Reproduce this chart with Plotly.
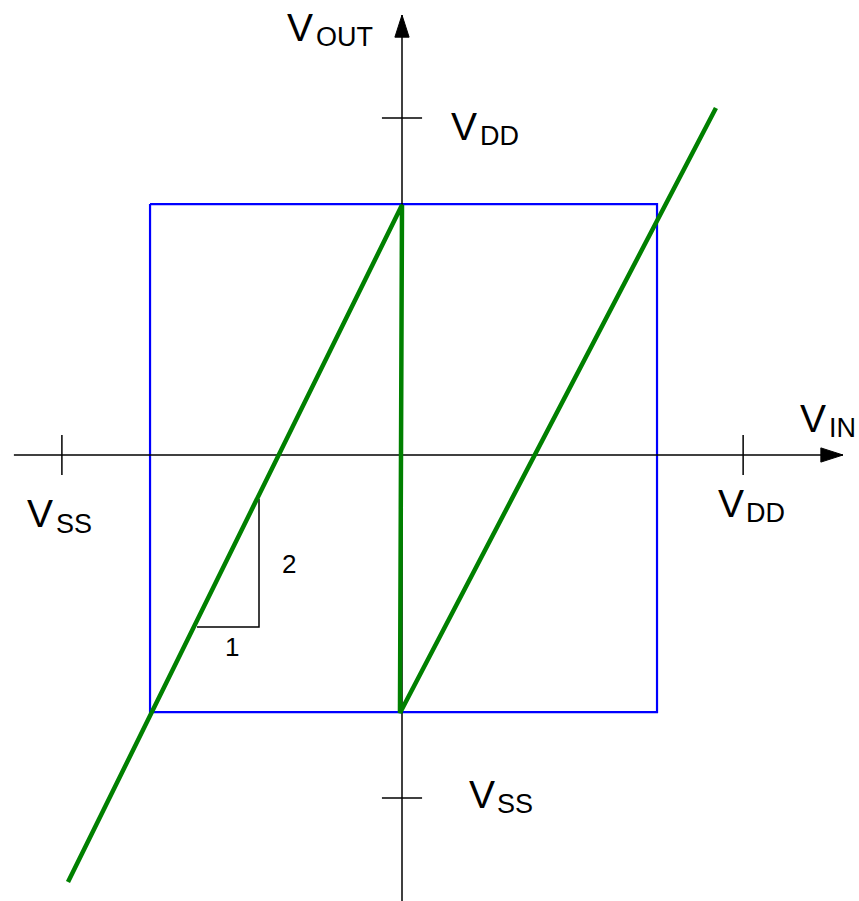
import plotly.graph_objects as go

# ---- data (units: half-width of the blue window = ~1) ----
curve_vin = [-1.315, 0.000, -0.008, 1.236]
curve_vout = [-1.681, 0.984, -1.016, 1.366]

window_x = [-0.992, 1.004, 1.004, -0.992, -0.992]
window_y = [0.988, 0.988, -1.012, -1.012, 0.988]

vin_tick_vals = [-1.339, 1.343]
vin_tick_text = [("V", "SS"), ("V", "DD")]
vout_tick_vals = [1.327, -1.350]
vout_tick_text = [("V", "DD"), ("V", "SS")]

slope_x = [-0.807, -0.563, -0.563]
slope_y = [-0.677, -0.677, -0.173]
slope_labels = ["1", "2"]

axis_x_extent = [-1.528, 1.736]
axis_y_extent = [-1.80, 1.732]

FONT = "Liberation Sans, Arial, sans-serif"
TICK_HALF = 0.079

fig = go.Figure()

# window (blue square)
fig.add_trace(go.Scatter(x=window_x, y=window_y, mode="lines",
                         line=dict(color="#0000FF", width=2.2), hoverinfo="skip"))

# axes lines
fig.add_trace(go.Scatter(x=axis_x_extent, y=[0, 0], mode="lines",
                         line=dict(color="black", width=1.5), hoverinfo="skip"))
fig.add_trace(go.Scatter(x=[0, 0], y=axis_y_extent, mode="lines",
                         line=dict(color="black", width=1.5), hoverinfo="skip"))

# arrowheads
ah_len, ah_w = 0.087, 0.028
xt = axis_x_extent[1]
fig.add_trace(go.Scatter(x=[xt, xt - ah_len, xt - ah_len, xt], y=[0, ah_w, -ah_w, 0],
                         mode="lines", fill="toself", fillcolor="black",
                         line=dict(color="black", width=1), hoverinfo="skip"))
yt = axis_y_extent[1]
fig.add_trace(go.Scatter(x=[0, ah_w, -ah_w, 0], y=[yt, yt - ah_len, yt - ah_len, yt],
                         mode="lines", fill="toself", fillcolor="black",
                         line=dict(color="black", width=1), hoverinfo="skip"))

# tick marks
for v in vin_tick_vals:
    fig.add_trace(go.Scatter(x=[v, v], y=[-TICK_HALF, TICK_HALF], mode="lines",
                             line=dict(color="black", width=1.5), hoverinfo="skip"))
for v in vout_tick_vals:
    fig.add_trace(go.Scatter(x=[-TICK_HALF, TICK_HALF], y=[v, v], mode="lines",
                             line=dict(color="black", width=1.5), hoverinfo="skip"))

# slope triangle
fig.add_trace(go.Scatter(x=slope_x, y=slope_y, mode="lines",
                         line=dict(color="black", width=1.5), hoverinfo="skip"))

# transfer curve
fig.add_trace(go.Scatter(x=curve_vin, y=curve_vout, mode="lines",
                         line=dict(color="#008000", width=4.5), hoverinfo="skip"))

annotations = []


def sub_label(xv, yv, main, sub, main_size=39, sub_size=27):
    # main glyph centred at (xv, yv); subscript placed right & lower
    annotations.append(dict(x=xv, y=yv, xref="x", yref="y", text=main, showarrow=False,
                            xanchor="center", yanchor="middle",
                            font=dict(family=FONT, size=main_size, color="black")))
    annotations.append(dict(x=xv + 0.053, y=yv - 0.038, xref="x", yref="y", text=sub,
                            showarrow=False, xanchor="left", yanchor="middle",
                            font=dict(family=FONT, size=sub_size, color="black")))


# axis titles
sub_label(-0.400, 1.683, "V", "OUT")
sub_label(1.620, 0.144, "V", "IN")

# x-axis tick labels (below axis)
sub_label(vin_tick_vals[0] - 0.086, -0.232, *vin_tick_text[0])
sub_label(vin_tick_vals[1] - 0.048, -0.191, *vin_tick_text[1])
# y-axis tick labels (right of axis)
sub_label(0.246, vout_tick_vals[0] - 0.032, *vout_tick_text[0])
sub_label(0.313, vout_tick_vals[1] + 0.015, *vout_tick_text[1])

# slope labels
annotations.append(dict(x=-0.669, y=-0.756, xref="x", yref="y", text=slope_labels[0],
                        showarrow=False, xanchor="center", yanchor="middle",
                        font=dict(family=FONT, size=26, color="black")))
annotations.append(dict(x=-0.445, y=-0.429, xref="x", yref="y", text=slope_labels[1],
                        showarrow=False, xanchor="center", yanchor="middle",
                        font=dict(family=FONT, size=26, color="black")))

fig.update_layout(
    width=859, height=901,
    margin=dict(l=0, r=0, t=0, b=0),
    paper_bgcolor="white", plot_bgcolor="white",
    showlegend=False,
    xaxis=dict(range=[-1.5827, 1.7992], visible=False, fixedrange=True),
    yaxis=dict(range=[-1.7559, 1.7913], visible=False, fixedrange=True),
    annotations=annotations,
)

fig.write_html("out.html", config={"displayModeBar": False},
               post_script="document.body.style.margin='0';document.body.style.overflow='hidden';")
